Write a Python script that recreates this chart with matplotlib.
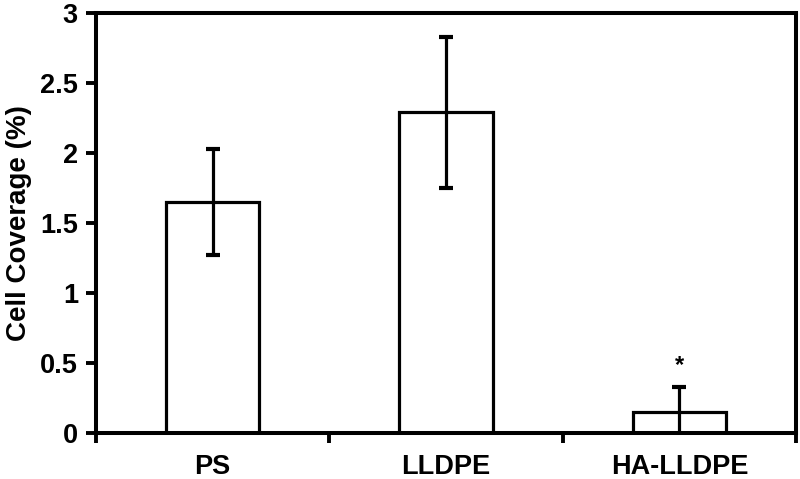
import numpy as np
import matplotlib.pyplot as plt

plt.rcParams['font.family'] = ['Liberation Sans', 'DejaVu Sans']
plt.rcParams['font.weight'] = 'bold'

# data
categories = ['PS', 'LLDPE', 'HA-LLDPE']
coverage = [1.65, 2.29, 0.15]
coverage_err = [0.38, 0.54, 0.18]
significant = [False, False, True]

fig = plt.figure(figsize=(8, 4.79), dpi=100)
ax = fig.add_axes([0.12, 0.096, 0.875, 0.877])

x = np.arange(len(categories))
ax.bar(x, coverage, width=0.4, color='white', edgecolor='black', linewidth=2.3, zorder=2)
ax.errorbar(x, coverage, yerr=coverage_err, fmt='none', ecolor='black',
            elinewidth=2.3, capsize=5, capthick=3, zorder=3)

# significance marker
for xi, v, e, s in zip(x, coverage, coverage_err, significant):
    if s:
        ax.text(xi, v + e + 0.15, '*', ha='center', va='center', fontsize=17, fontweight='bold')

ax.set_xlim(-0.5, len(categories) - 0.5)
ax.set_ylim(0, 3)
ax.set_yticks([0, 0.5, 1, 1.5, 2, 2.5, 3])
ax.set_yticklabels(['0', '0.5', '1', '1.5', '2', '2.5', '3'])
ax.set_xticks(x)
ax.set_xticklabels(categories)
ax.set_xticks(np.arange(len(categories) + 1) - 0.5, minor=True)
ax.tick_params(axis='x', which='major', length=0, pad=15, labelsize=19.5)
ax.tick_params(axis='x', which='minor', length=7, width=2.8, direction='out')
ax.tick_params(axis='y', length=7, width=2.8, direction='out', labelsize=19.5, pad=6)
for lab in ax.get_xticklabels() + ax.get_yticklabels():
    lab.set_fontweight('bold')

for sp in ax.spines.values():
    sp.set_linewidth(2.9)

ax.set_ylabel('Cell Coverage (%)', fontsize=20, fontweight='bold', labelpad=6)

fig.savefig('out.png', dpi=100)
